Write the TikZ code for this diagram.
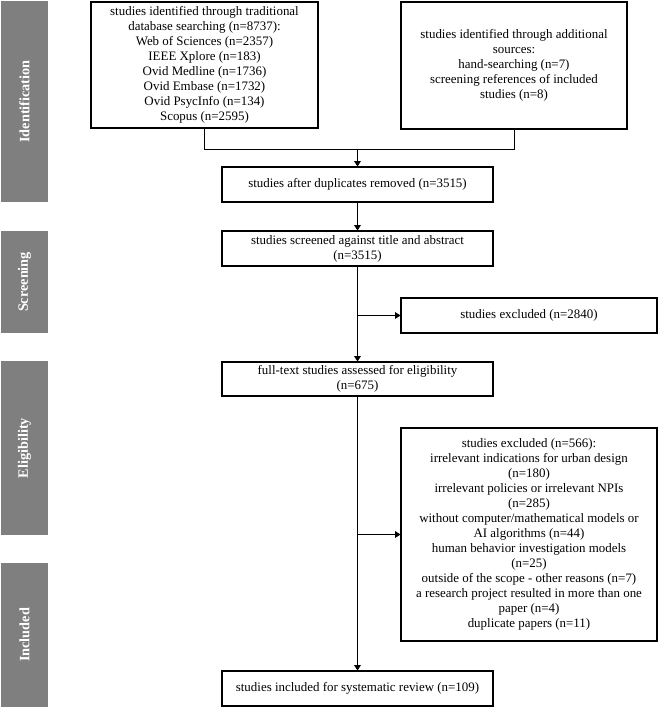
\documentclass[tikz,border=0pt]{standalone}
\usepackage{fontspec}
\setmainfont{Liberation Serif}
\usetikzlibrary{arrows.meta}
\definecolor{barcol}{HTML}{7F7F7F}
\begin{document}
\begin{tikzpicture}[x=0.75pt,y=-0.75pt,
  box/.style={draw=black,line width=0.8pt,align=center,inner sep=0pt,
    font=\fontsize{9.7}{11.25}\selectfont},
  bar/.style={fill=barcol,draw=none,inner sep=0pt,minimum width=35.25pt},
  barlabel/.style={text=white,font=\fontsize{10.7}{12}\selectfont\bfseries,rotate=90,inner sep=0pt},
  conn/.style={line width=0.6pt},
  arr/.style={conn,-{Triangle[length=4pt,width=5pt]}}]
\useasboundingbox (0,0) rectangle (659,708);

% phase bars
\node[bar,minimum height=150.75pt] (b1) at (24.5,101.5) {};
\node[bar,minimum height=76.5pt] (b2) at (24.5,282) {};
\node[bar,minimum height=130.5pt] (b3) at (24.5,448) {};
\node[bar,minimum height=108pt] (b4) at (24.5,635) {};
\node[barlabel] (l1) at (b1.center) {Identification};
\node[barlabel] (l2) at (b2.center) {Screening};
\node[barlabel] (l3) at (b3.center) {Eligibility};
\node[barlabel] (l4) at (b4.center) {Included};

% boxes
\node[box,minimum width=170.25pt,minimum height=94.5pt] (A) at (204.5,65)
  {studies identified through traditional\\database searching (n=8737):\\Web of Sciences (n=2357)\\IEEE Xplore (n=183)\\Ovid Medline (n=1736)\\Ovid Embase (n=1732)\\Ovid PsycInfo (n=134)\\Scopus (n=2595)};
\node[box,minimum width=169.5pt,minimum height=95.25pt] (B) at (514,65.5)
  {studies identified through additional\\sources:\\hand-searching (n=7)\\screening references of included\\studies (n=8)};
\node[box,minimum width=203.25pt,minimum height=26.25pt] (C) at (357.5,184.5)
  {studies after duplicates removed (n=3515)};
\node[box,minimum width=203.25pt,minimum height=26.25pt] (D) at (357.5,248.5)
  {studies screened against title and abstract\\(n=3515)};
\node[box,minimum width=192pt,minimum height=26.25pt] (X1) at (529,315.5)
  {studies excluded (n=2840)};
\node[box,minimum width=203.25pt,minimum height=25.5pt] (E) at (357.5,379)
  {full-text studies assessed for eligibility\\(n=675)};
\node[box,minimum width=192pt,minimum height=159.75pt] (X2) at (529,534.5)
  {studies excluded (n=566):\\irrelevant indications for urban design\\(n=180)\\irrelevant policies or irrelevant NPIs\\(n=285)\\without computer/mathematical models or\\AI algorithms (n=44)\\human behavior investigation models\\(n=25)\\outside of the scope - other reasons (n=7)\\a research project resulted in more than one\\paper (n=4)\\duplicate papers (n=11)};
\node[box,minimum width=203.25pt,minimum height=26.25pt] (F) at (357.5,688.5)
  {studies included for systematic review (n=109)};

% connectors
\coordinate (j) at (0,149);
\draw[conn] (A.south) -- (A.south |- j) -| (B.south);
\draw[arr] (C.north |- j) -- (C.north);
\draw[arr] (C.south) -- (D.north);
\draw[arr] (D.south) -- (E.north);
\draw[arr] (D.south |- X1.west) -- (X1.west);
\draw[arr] (E.south) -- (F.north);
\draw[arr] (E.south |- X2.west) -- (X2.west);
\end{tikzpicture}
\end{document}
